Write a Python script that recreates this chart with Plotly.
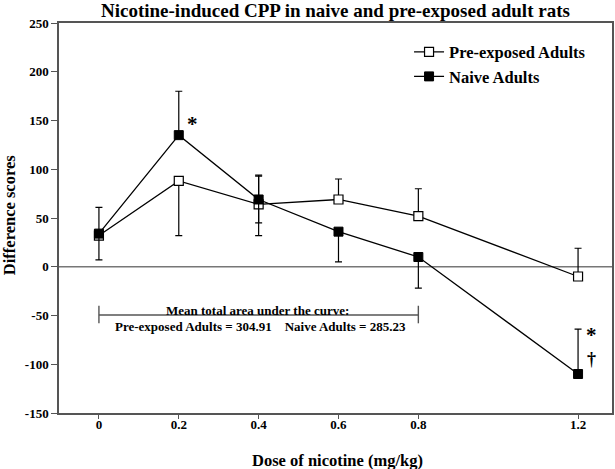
import plotly.graph_objects as go

doses = [0, 0.2, 0.4, 0.6, 0.8, 1.2]
tick_labels = ["0", "0.2", "0.4", "0.6", "0.8", "1.2"]
y_ticks = [-150, -100, -50, 0, 50, 100, 150, 200, 250]
y_tick_labels = ["-150", "-100", "-50", "0", "50", "100", "150", "200", "250"]

pre_mean = [32, 88, 64, 69, 52, -10]
pre_err_plus = [29, 0, 30, 21, 28, 29]
pre_err_minus = [0, 56, 32, 0, 0, 0]

naive_mean = [34, 135, 69, 36, 10, -110]
naive_err_plus = [0, 45, 24, 0, 0, 46]
naive_err_minus = [27, 0, 24, 31, 32, 0]

FONT = "Liberation Serif"

fig = go.Figure()

fig.add_trace(go.Scatter(
    x=doses, y=pre_mean, mode="lines+markers", name="<b>Pre-exposed Adults</b>",
    legendgroup="pre",
    line=dict(color="black", width=1.3),
    marker=dict(symbol="square", size=9, color="white", line=dict(color="black", width=1.2)),
    error_y=dict(type="data", symmetric=False, array=pre_err_plus, arrayminus=pre_err_minus,
                 color="black", thickness=1.2, width=3.5),
))
fig.add_trace(go.Scatter(
    x=doses, y=naive_mean, mode="lines+markers", name="<b>Naive Adults</b>",
    legendgroup="naive",
    line=dict(color="black", width=1.3),
    marker=dict(symbol="square", size=9, color="black", line=dict(color="black", width=1)),
    error_y=dict(type="data", symmetric=False, array=naive_err_plus, arrayminus=naive_err_minus,
                 color="black", thickness=1.2, width=3.5),
))

# zero line
fig.add_shape(type="line", xref="paper", x0=0, x1=1, yref="y", y0=0, y1=0,
              line=dict(color="#777777", width=1.6), layer="below")

# bracket for AUC annotation
fig.add_shape(type="line", x0=0, x1=0.8, y0=-49.5, y1=-49.5, line=dict(color="#555555", width=1.4))
fig.add_shape(type="line", x0=0, x1=0, y0=-40, y1=-58, line=dict(color="#555555", width=1.4))
fig.add_shape(type="line", x0=0.8, x1=0.8, y0=-40, y1=-58, line=dict(color="#555555", width=1.4))

fig.add_annotation(x=0.398, y=-44.5, text="<b>Mean total area under the curve:</b>", showarrow=False,
                   font=dict(family=FONT, size=13, color="black"))
fig.add_annotation(x=0.405, y=-61.5,
                   text="<b>Pre-exposed Adults = 304.91&nbsp;&nbsp;&nbsp;&nbsp;Naive Adults = 285.23</b>",
                   showarrow=False, font=dict(family=FONT, size=13, color="black"))

# significance marks
fig.add_annotation(x=0.235, y=146, text="<b>*</b>", showarrow=False,
                   font=dict(family=FONT, size=21, color="black"))
fig.add_annotation(x=1.2325, y=-70, text="<b>*</b>", showarrow=False,
                   font=dict(family=FONT, size=21, color="black"))
fig.add_annotation(x=1.2325, y=-95, text="<b>†</b>", showarrow=False,
                   font=dict(family=FONT, size=18, color="#000000"))

# titles as paper annotations
fig.add_annotation(xref="paper", yref="paper", x=0.5, y=1.031, xanchor="center", yanchor="middle",
                   text="<b>Nicotine-induced CPP in naive and pre-exposed adult rats</b>",
                   showarrow=False, font=dict(family=FONT, size=19, color="black"))
fig.add_annotation(xref="paper", yref="paper", x=0.503, y=-0.121, xanchor="center", yanchor="middle",
                   text="<b>Dose of nicotine (mg/kg)</b>",
                   showarrow=False, font=dict(family=FONT, size=16.5, color="black"))
fig.add_annotation(xref="paper", yref="paper", x=-0.0895, y=0.506, xanchor="center", yanchor="middle",
                   text="<b>Difference scores</b>", textangle=-90,
                   showarrow=False, font=dict(family=FONT, size=16.5, color="black"))

fig.update_layout(
    width=615, height=469,
    margin=dict(l=59, r=3, t=23, b=56, autoexpand=False),
    paper_bgcolor="white", plot_bgcolor="white",
    font=dict(family=FONT, color="black"),
    showlegend=True,
    legend=dict(x=0.633, y=0.97, xanchor="left", yanchor="top", bgcolor="rgba(0,0,0,0)",
                font=dict(family=FONT, size=16.5, color="black"), tracegroupgap=0),
    xaxis=dict(range=[-0.1, 1.285], tickvals=doses, ticktext=["<b>%s</b>" % t for t in tick_labels],
               ticks="outside", ticklen=4, tickcolor="#555", showgrid=False, zeroline=False,
               showline=True, linecolor="#555", linewidth=1.5, mirror=True, automargin=False,
               ticklabelstandoff=-5,
               tickfont=dict(family=FONT, size=13, color="black")),
    yaxis=dict(range=[-150, 250], tickvals=y_ticks,
               ticktext=["<b>%s</b>" % t for t in y_tick_labels],
               ticks="outside", ticklen=6, tickcolor="#555",
               showgrid=False, zeroline=False, showline=True, linecolor="#555", linewidth=1.5,
               mirror=True, automargin=False, tickfont=dict(family=FONT, size=13, color="black")),
)

fig.write_html("out.html", config={"displayModeBar": False},
               post_script="document.body.style.margin='0';document.body.style.padding='0';")
